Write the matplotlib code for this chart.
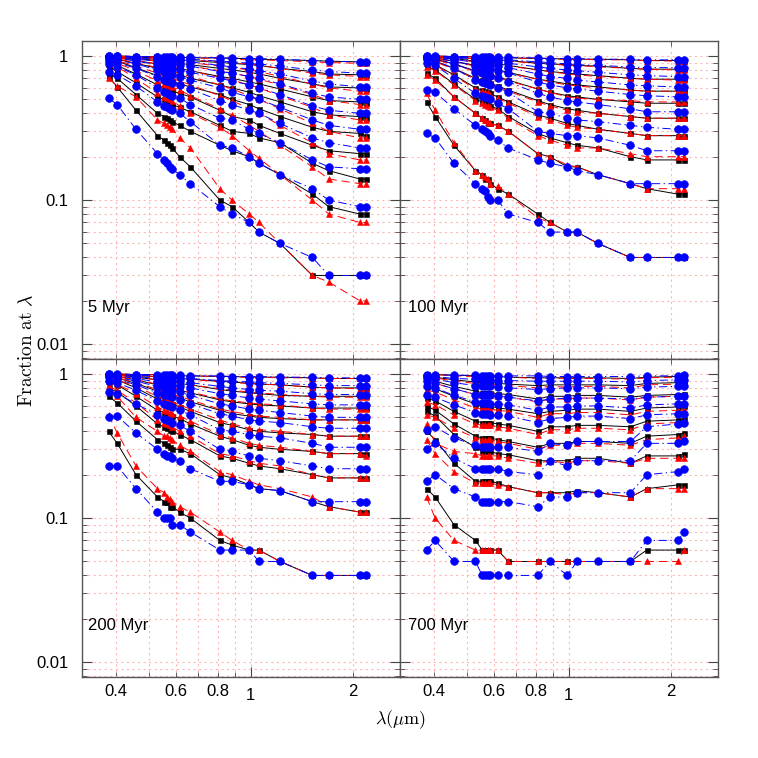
import matplotlib
matplotlib.use('Agg')
import matplotlib.pyplot as plt
from matplotlib.ticker import FixedLocator, FixedFormatter, NullFormatter

plt.rcParams['font.family'] = ['Liberation Sans', 'DejaVu Sans']
plt.rcParams['mathtext.fontset'] = 'cm'
plt.rcParams['lines.scale_dashes'] = False

# wavelengths (micron)
lam = [0.38, 0.403, 0.458, 0.53, 0.555, 0.566, 0.576, 0.586, 0.616, 0.663,
       0.81, 0.88, 0.99, 1.057, 1.22, 1.52, 1.70, 2.10, 2.19]

# ---- 5 Myr
blue_5 = [
    [1.00, 1.00, .99, .99, .99, .99, .98, .98, .98, .98, .97, .97, .96, .96, .95, .93, .92, .91, .91],
    [1.00, 1.00, .99, .98, .97, .97, .97, .96, .96, .95, .92, .91, .89, .88, .85, .80, .78, .76, .76],
    [.99, .99, .97, .95, .94, .94, .93, .93, .92, .91, .86, .84, .81, .79, .75, .67, .64, .61, .61],
    [.99, .98, .95, .92, .90, .89, .89, .88, .87, .85, .78, .76, .72, .70, .64, .55, .52, .50, .50],
    [.98, .97, .92, .87, .84, .83, .82, .81, .80, .77, .70, .67, .63, .60, .54, .45, .42, .40, .40],
    [.96, .94, .88, .80, .77, .76, .75, .74, .72, .68, .60, .56, .52, .50, .44, .36, .33, .31, .31],
    [.93, .90, .82, .72, .68, .67, .66, .65, .63, .59, .49, .46, .42, .40, .34, .27, .25, .23, .23],
    [.88, .84, .74, .60, .56, .55, .54, .53, .51, .46, .37, .36, .31, .29, .25, .19, .17, .165, .165],
    [.78, .74, .62, .48, .45, .44, .43, .42, .40, .35, .24, .23, .20, .18, .15, .12, .10, .09, .09],
    [.51, .46, .31, .21, .19, .18, .17, .165, .15, .13, .09, .08, .07, .06, .05, .04, .03, .03, .03],
]
black_5 = [
    [1.00, 1.00, .99, .99, .99, .98, .98, .98, .98, .97, .97, .96, .96, .95, .94, .93, .92, .91, .91],
    [.99, .99, .98, .97, .96, .96, .95, .95, .94, .93, .90, .89, .87, .86, .82, .78, .75, .74, .74],
    [.99, .98, .96, .93, .92, .91, .91, .90, .89, .87, .82, .80, .77, .75, .70, .64, .61, .60, .59],
    [.98, .97, .93, .88, .86, .85, .84, .83, .82, .79, .72, .70, .66, .64, .59, .52, .49, .48, .47],
    [.97, .95, .89, .82, .79, .78, .77, .76, .74, .70, .63, .60, .56, .53, .48, .41, .39, .38, .37],
    [.95, .92, .83, .73, .70, .69, .68, .67, .64, .61, .54, .50, .46, .43, .38, .32, .30, .29, .28],
    [.91, .86, .75, .63, .60, .59, .58, .57, .55, .52, .42, .38, .36, .33, .29, .24, .22, .21, .21],
    [.84, .78, .65, .52, .50, .48, .47, .46, .44, .41, .33, .30, .29, .27, .25, .18, .16, .14, .14],
    [.76, .70, .54, .40, .38, .37, .36, .35, .33, .30, .24, .22, .20, .18, .15, .11, .09, .08, .08],
    [.72, .61, .42, .28, .26, .25, .24, .23, .20, .17, .10, .09, .07, .06, .05, .03, .03, .03, .03],
]
red_5 = [
    [1.00, 1.00, .99, .99, .98, .98, .98, .98, .97, .97, .96, .95, .94, .94, .93, .91, .90, .89, .89],
    [1.00, .99, .98, .97, .97, .96, .96, .96, .95, .94, .91, .90, .88, .86, .82, .76, .74, .72, .72],
    [.99, .99, .97, .95, .94, .94, .93, .93, .92, .90, .85, .83, .80, .78, .72, .64, .60, .57, .57],
    [.99, .98, .95, .92, .91, .90, .90, .89, .88, .85, .79, .76, .72, .69, .63, .54, .49, .46, .46],
    [.98, .97, .93, .88, .86, .85, .85, .84, .82, .79, .71, .68, .63, .60, .53, .44, .39, .36, .36],
    [.97, .95, .90, .83, .81, .80, .79, .78, .76, .72, .63, .59, .53, .50, .43, .34, .30, .27, .27],
    [.95, .93, .85, .76, .73, .72, .71, .70, .67, .63, .53, .49, .43, .40, .33, .25, .21, .19, .19],
    [.92, .89, .79, .67, .64, .63, .62, .61, .58, .53, .43, .39, .33, .30, .24, .17, .14, .13, .13],
    [.88, .84, .70, .55, .52, .51, .50, .49, .45, .40, .32, .28, .22, .195, .15, .10, .08, .07, .07],
    [.70, .62, .52, .36, .34, .33, .32, .31, .27, .23, .12, .10, .08, .07, .05, .03, .027, .02, .02],
]

# ---- 100 Myr
blue_100 = [
    [1.00, 1.00, .99, .99, .99, .99, .98, .98, .98, .98, .97, .96, .96, .96, .95, .95, .94, .94, .94],
    [1.00, .99, .98, .97, .96, .96, .96, .95, .95, .94, .91, .90, .88, .87, .86, .84, .83, .83, .83],
    [.99, .99, .97, .94, .93, .93, .92, .92, .91, .89, .84, .82, .80, .79, .77, .74, .73, .72, .72],
    [.99, .98, .95, .90, .89, .88, .88, .87, .85, .83, .75, .72, .70, .68, .66, .63, .62, .61, .61],
    [.98, .97, .92, .85, .83, .82, .82, .81, .79, .76, .66, .63, .60, .59, .57, .54, .53, .52, .52],
    [.97, .96, .88, .78, .76, .75, .74, .73, .70, .66, .55, .52, .49, .48, .46, .43, .41, .41, .41],
    [.95, .93, .82, .68, .66, .65, .64, .63, .60, .56, .41, .40, .37, .36, .35, .33, .32, .31, .31],
    [.90, .86, .70, .55, .53, .52, .51, .50, .47, .43, .30, .29, .28, .28, .27, .24, .22, .22, .22],
    [.58, .56, .43, .33, .31, .30, .29, .28, .26, .23, .19, .18, .17, .16, .15, .13, .13, .13, .13],
    [.29, .27, .18, .13, .12, .115, .105, .10, .10, .08, .07, .06, .06, .06, .05, .04, .04, .04, .04],
]
black_100 = [
    [1.00, 1.00, .99, .99, .98, .98, .98, .98, .97, .97, .96, .96, .95, .95, .95, .94, .93, .93, .93],
    [.99, .99, .98, .96, .95, .95, .95, .94, .94, .93, .89, .88, .87, .86, .85, .82, .81, .81, .81],
    [.99, .98, .96, .92, .91, .90, .90, .89, .88, .86, .80, .78, .76, .75, .73, .70, .69, .69, .69],
    [.98, .97, .92, .86, .84, .83, .83, .82, .80, .77, .69, .67, .64, .63, .61, .58, .57, .57, .57],
    [.97, .95, .88, .79, .77, .76, .75, .74, .72, .68, .59, .56, .53, .52, .50, .48, .47, .47, .47],
    [.95, .92, .82, .70, .68, .67, .66, .65, .62, .58, .49, .46, .43, .42, .40, .38, .37, .37, .37],
    [.91, .87, .74, .60, .58, .57, .56, .55, .52, .48, .39, .37, .34, .33, .31, .29, .28, .28, .28],
    [.85, .80, .64, .50, .48, .47, .46, .45, .43, .38, .29, .27, .25, .24, .23, .20, .19, .19, .19],
    [.76, .70, .52, .40, .37, .36, .345, .34, .33, .30, .21, .20, .17, .17, .15, .13, .12, .11, .11],
    [.48, .38, .24, .16, .15, .14, .14, .13, .12, .11, .08, .07, .06, .06, .05, .04, .04, .04, .04],
]
red_100 = [
    [1.00, 1.00, .99, .99, .98, .98, .98, .97, .97, .97, .96, .95, .95, .95, .94, .94, .93, .92, .92],
    [.99, .99, .97, .96, .95, .95, .94, .94, .93, .92, .89, .88, .86, .86, .84, .82, .81, .80, .80],
    [.99, .98, .95, .91, .90, .90, .89, .89, .87, .85, .80, .78, .75, .74, .72, .70, .69, .68, .68],
    [.98, .96, .91, .85, .83, .82, .82, .81, .79, .76, .69, .66, .63, .62, .60, .58, .57, .57, .57],
    [.97, .94, .87, .78, .76, .75, .74, .73, .71, .67, .59, .56, .52, .51, .50, .49, .48, .48, .48],
    [.94, .91, .81, .69, .67, .66, .65, .64, .61, .57, .48, .45, .42, .41, .40, .38, .37, .37, .37],
    [.90, .86, .73, .59, .57, .56, .55, .54, .51, .47, .38, .36, .33, .32, .31, .29, .28, .28, .28],
    [.84, .79, .63, .49, .47, .46, .45, .44, .42, .37, .28, .26, .24, .23, .23, .21, .20, .20, .20],
    [.74, .68, .52, .40, .37, .36, .35, .34, .33, .30, .21, .20, .175, .17, .15, .13, .12, .12, .12],
    [.55, .42, .25, .16, .15, .145, .14, .13, .125, .11, .075, .07, .06, .06, .05, .04, .04, .04, .04],
]

# ---- 200 Myr
blue_200 = [
    [1.00, 1.00, .99, .99, .99, .98, .98, .98, .98, .97, .97, .96, .96, .96, .95, .95, .94, .94, .94],
    [1.00, .99, .98, .97, .96, .96, .95, .95, .94, .93, .90, .89, .88, .87, .86, .84, .83, .83, .83],
    [.99, .98, .96, .93, .92, .91, .91, .90, .89, .87, .82, .80, .78, .77, .76, .73, .72, .72, .72],
    [.98, .97, .93, .88, .86, .86, .85, .84, .83, .80, .73, .71, .68, .67, .65, .62, .61, .61, .61],
    [.97, .95, .89, .82, .80, .79, .78, .77, .75, .71, .62, .60, .57, .56, .54, .51, .50, .50, .50],
    [.95, .92, .84, .74, .72, .71, .70, .69, .66, .62, .53, .51, .48, .47, .46, .43, .42, .42, .42],
    [.90, .87, .77, .65, .62, .61, .60, .59, .56, .52, .41, .40, .38, .37, .36, .33, .31, .31, .31],
    [.75, .73, .62, .52, .49, .48, .47, .46, .44, .40, .30, .29, .27, .26, .25, .23, .22, .22, .22],
    [.50, .51, .39, .30, .28, .27, .27, .26, .25, .22, .18, .18, .17, .16, .155, .13, .13, .13, .13],
    [.23, .23, .16, .11, .10, .10, .10, .09, .09, .08, .06, .06, .06, .05, .05, .04, .04, .04, .04],
]
black_200 = [
    [1.00, 1.00, .99, .99, .98, .98, .98, .98, .97, .97, .96, .96, .95, .95, .95, .94, .93, .93, .93],
    [.99, .99, .97, .96, .95, .95, .94, .94, .93, .92, .89, .88, .86, .85, .84, .81, .80, .80, .80],
    [.99, .98, .95, .91, .89, .89, .88, .88, .86, .84, .78, .76, .74, .73, .71, .70, .70, .70, .70],
    [.98, .96, .91, .84, .82, .81, .80, .79, .77, .74, .66, .64, .62, .61, .60, .58, .58, .58, .58],
    [.96, .94, .86, .76, .74, .73, .72, .71, .68, .64, .56, .53, .51, .50, .49, .48, .48, .48, .48],
    [.94, .91, .80, .67, .65, .64, .63, .62, .59, .55, .46, .44, .41, .40, .39, .38, .37, .37, .37],
    [.88, .84, .70, .56, .54, .53, .52, .51, .49, .45, .37, .35, .32, .31, .30, .29, .28, .28, .28],
    [.80, .75, .60, .45, .43, .42, .41, .40, .38, .35, .27, .26, .24, .23, .22, .20, .19, .19, .19],
    [.70, .63, .47, .35, .33, .32, .31, .30, .30, .28, .20, .19, .17, .16, .155, .13, .12, .11, .11],
    [.40, .33, .20, .14, .13, .13, .12, .12, .11, .10, .07, .065, .06, .06, .05, .04, .04, .04, .04],
]
red_200 = [
    [1.00, 1.00, .99, .99, .98, .98, .98, .97, .97, .97, .96, .95, .95, .95, .94, .94, .93, .93, .93],
    [.99, .99, .97, .96, .95, .94, .94, .94, .93, .92, .88, .87, .86, .85, .84, .81, .80, .79, .79],
    [.99, .98, .95, .91, .90, .89, .89, .88, .86, .84, .79, .77, .75, .74, .72, .70, .69, .69, .69],
    [.98, .96, .91, .85, .83, .82, .81, .80, .78, .75, .67, .65, .63, .62, .61, .58, .57, .57, .57],
    [.96, .94, .87, .78, .75, .74, .73, .72, .70, .66, .57, .55, .52, .51, .50, .48, .48, .48, .48],
    [.94, .91, .82, .70, .67, .66, .65, .64, .61, .57, .48, .45, .42, .41, .40, .38, .37, .37, .37],
    [.89, .85, .73, .59, .56, .55, .54, .53, .51, .47, .38, .36, .33, .32, .31, .29, .28, .28, .27],
    [.82, .77, .63, .48, .46, .45, .44, .43, .40, .37, .28, .27, .25, .24, .23, .20, .19, .19, .19],
    [.76, .70, .50, .40, .37, .37, .36, .35, .32, .29, .21, .20, .18, .17, .16, .14, .12, .11, .11],
    [.52, .39, .23, .16, .15, .14, .135, .13, .12, .11, .08, .07, .06, .06, .05, .04, .04, .04, .04],
]

# ---- 700 Myr
blue_700 = [
    [.99, .99, .98, .98, .97, .97, .97, .97, .97, .97, .97, .96, .96, .96, .96, .96, .97, .97, .98],
    [.97, .96, .93, .92, .91, .91, .91, .91, .90, .90, .89, .89, .89, .89, .89, .88, .90, .91, .91],
    [.94, .92, .87, .83, .82, .82, .82, .82, .81, .80, .78, .79, .80, .80, .80, .79, .81, .82, .82],
    [.89, .86, .79, .72, .71, .71, .71, .71, .70, .69, .65, .67, .68, .68, .68, .67, .69, .70, .70],
    [.83, .80, .71, .64, .63, .63, .63, .62, .62, .61, .56, .59, .59, .60, .60, .58, .61, .62, .62],
    [.72, .69, .61, .54, .53, .53, .53, .52, .52, .51, .46, .49, .50, .51, .51, .49, .52, .53, .53],
    [.41, .43, .36, .32, .31, .31, .31, .31, .31, .31, .29, .33, .32, .34, .34, .34, .43, .45, .46],
    [.30, .33, .26, .22, .22, .22, .22, .22, .22, .21, .20, .25, .23, .25, .25, .25, .33, .33, .34],
    [.18, .20, .16, .14, .13, .13, .13, .13, .13, .13, .12, .14, .14, .15, .15, .15, .20, .21, .22],
    [.06, .07, .05, .05, .04, .04, .04, .04, .04, .04, .04, .05, .04, .05, .05, .05, .07, .07, .08],
]
black_700 = [
    [1.00, .99, .98, .97, .96, .96, .96, .96, .96, .95, .94, .94, .94, .94, .94, .93, .95, .96, .96],
    [.97, .95, .91, .88, .87, .87, .87, .87, .86, .85, .83, .84, .84, .84, .84, .83, .86, .87, .87],
    [.91, .89, .82, .76, .74, .74, .74, .74, .73, .72, .67, .70, .70, .71, .71, .69, .71, .72, .73],
    [.81, .79, .70, .62, .60, .60, .60, .60, .58, .57, .53, .55, .56, .57, .57, .55, .58, .59, .60],
    [.68, .65, .55, .47, .46, .46, .46, .46, .45, .44, .40, .43, .43, .44, .44, .43, .47, .48, .49],
    [.60, .56, .45, .37, .36, .36, .36, .36, .35, .34, .31, .33, .33, .34, .34, .33, .37, .38, .39],
    [.55, .51, .38, .31, .29, .29, .29, .29, .28, .275, .25, .25, .25, .26, .26, .24, .27, .27, .28],
    [.40, .35, .24, .18, .18, .18, .18, .18, .175, .165, .15, .15, .15, .155, .15, .14, .16, .17, .17],
    [.16, .14, .09, .07, .06, .06, .06, .06, .06, .05, .05, .05, .05, .05, .05, .05, .06, .06, .06],
]
red_700 = [
    [.99, .99, .97, .96, .96, .96, .96, .96, .95, .95, .93, .94, .93, .93, .93, .92, .94, .95, .95],
    [.95, .94, .89, .86, .85, .85, .85, .85, .84, .83, .80, .82, .81, .82, .82, .80, .84, .85, .85],
    [.88, .86, .79, .72, .71, .71, .71, .71, .70, .69, .64, .67, .67, .68, .68, .66, .69, .70, .70],
    [.77, .75, .66, .58, .57, .57, .57, .57, .56, .55, .50, .53, .53, .54, .54, .52, .55, .56, .57],
    [.64, .61, .52, .45, .44, .44, .44, .44, .43, .42, .38, .41, .41, .42, .42, .41, .45, .46, .47],
    [.52, .50, .42, .36, .35, .35, .35, .35, .34, .33, .30, .32, .32, .33, .33, .32, .35, .36, .37],
    [.45, .33, .29, .28, .27, .27, .27, .27, .27, .26, .24, .25, .24, .25, .25, .24, .26, .26, .26],
    [.35, .28, .21, .175, .175, .175, .175, .175, .17, .165, .15, .15, .145, .15, .15, .14, .16, .16, .16],
    [.14, .10, .07, .06, .06, .06, .06, .06, .06, .05, .05, .05, .05, .05, .05, .05, .05, .05, .06],
]

ages = ['5 Myr', '100 Myr', '200 Myr', '700 Myr']

fig, axes = plt.subplots(2, 2, figsize=(7.58, 7.58), dpi=100)
fig.subplots_adjust(left=0.1082, right=0.9472, top=0.9459, bottom=0.1069,
                    wspace=0, hspace=0)

panels = [
    (axes[0, 0], ages[0], blue_5, black_5, red_5, 0.019),
    (axes[0, 1], ages[1], blue_100, black_100, red_100, 0.025),
    (axes[1, 0], ages[2], blue_200, black_200, red_200, 0.019),
    (axes[1, 1], ages[3], blue_700, black_700, red_700, 0.025),
]

yminor = [k * 10.0 ** e for e in (-3, -2, -1) for k in range(2, 10)]

for i, (ax, age, blue, black, red, tx) in enumerate(panels):
    ax.set_xscale('log')
    ax.set_yscale('log')
    ax.set_axisbelow(True)

    for f in black:
        ax.plot(lam, f, color='black', lw=0.7, marker='s', ms=3.6, mew=0.4, zorder=3)
    for f in red:
        ax.plot(lam, f, color='red', lw=0.7, ls=(0, (6, 3.5)), marker='^', ms=4.3,
                mew=0.4, zorder=4)
    for f in blue:
        ax.plot(lam, f, color='blue', lw=0.7, ls=(0, (6, 2.5, 1, 2.5)), marker='o',
                ms=5.6, mew=0.4, zorder=5)

    ax.set_xlim(0.3173, 2.758)
    ax.set_ylim(0.0079, 1.27)

    ax.xaxis.set_major_locator(FixedLocator([1.0]))
    ax.xaxis.set_major_formatter(FixedFormatter(['1']))
    ax.xaxis.set_minor_locator(FixedLocator([0.4, 0.5, 0.6, 0.7, 0.8, 0.9, 2.0]))
    ax.xaxis.set_minor_formatter(FixedFormatter(['0.4', '', '0.6', '', '0.8', '', '2']))
    ax.yaxis.set_major_locator(FixedLocator([0.01, 0.1, 1.0]))
    ax.yaxis.set_major_formatter(FixedFormatter(['0.01', '0.1', '1']))
    ax.yaxis.set_minor_locator(FixedLocator(yminor))
    ax.yaxis.set_minor_formatter(NullFormatter())

    ax.grid(True, which='both', color='#ffb4b4', ls=(0, (1.5, 2.5)), lw=0.8)

    ax.tick_params(which='both', direction='in', top=True, right=True,
                   color='#444444', labelsize=12)
    ax.tick_params(which='major', length=7)
    ax.tick_params(which='minor', length=3.6)
    ax.tick_params(axis='y', which='both', pad=10)
    ax.tick_params(axis='x', which='minor', pad=5)
    ax.tick_params(axis='x', which='major', pad=8)

    if i % 2 == 1:
        ax.tick_params(which='both', labelleft=False)
    if i < 2:
        ax.tick_params(which='both', labelbottom=False)

    for sp in ax.spines.values():
        sp.set_color('#555555')
        sp.set_linewidth(1.0)

    ax.text(tx, 0.163, age, transform=ax.transAxes, fontsize=12, va='center', ha='left')

fig.text(0.036, 0.538, r'$\mathrm{Fraction\ at\ }\lambda$', rotation=90,
         fontsize=14, ha='center', va='center')
fig.text(0.528, 0.05, r'$\lambda(\mu\mathrm{m})$', fontsize=13, ha='center', va='center')

fig.savefig('out.png', dpi=100)
